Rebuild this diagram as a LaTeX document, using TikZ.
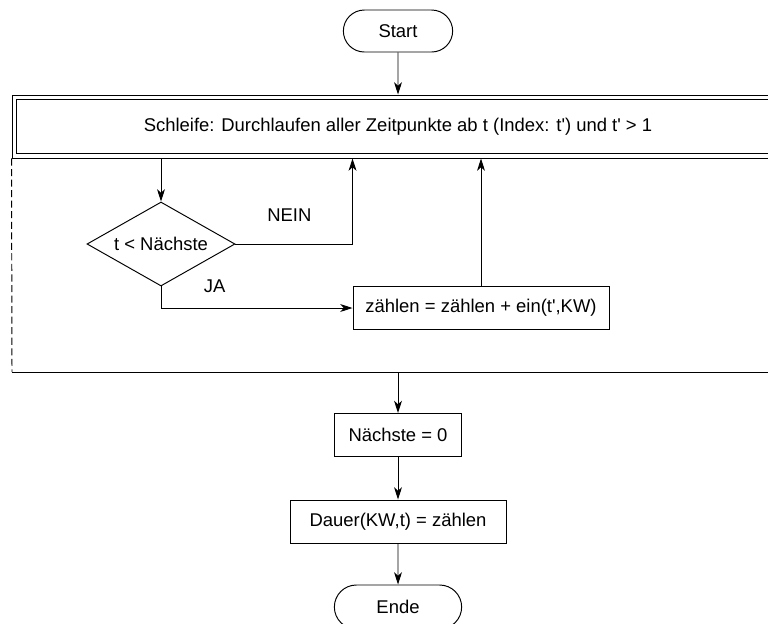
\documentclass[tikz,border=0pt]{standalone}
\usepackage{fontspec}
\setmainfont{Liberation Sans}
\usepackage{tikz}
\usetikzlibrary{shapes.geometric,shapes.misc,arrows.meta,positioning}

\begin{document}
\begin{tikzpicture}[font=\fontsize{10.5}{12.5}\selectfont,line width=0.55pt,
  terminal/.style={rounded rectangle,draw,minimum width=2.42cm,minimum height=0.84cm},
  anweisung/.style={rectangle,draw,minimum height=0.86cm,inner xsep=6pt},
  entscheidung/.style={diamond,draw,aspect=1.76,minimum width=2.96cm,minimum height=1.68cm,inner sep=0pt},
  schleife/.style={rectangle,draw,minimum width=15.44cm,minimum height=1.26cm},
  pfeil/.style={-{Stealth[length=7pt,width=4.5pt,inset=2pt]}}]

  \useasboundingbox (0,0) rectangle (15.36,-12.46);

  \node[terminal] (START) at (7.96,-0.62) {Start};
  \node[schleife] (SCHL) at (7.96,-2.53) {Schleife: Durchlaufen aller Zeitpunkte ab t (Index: t\textquotesingle) und t\textquotesingle{} > 1};
  \draw ([shift={(0.1,-0.1)}]SCHL.north west) rectangle ([shift={(-0.1,0.1)}]SCHL.south east);
  \node[entscheidung] (VGL) at (3.22,-4.88) {t < Nächste};
  \node[anweisung,minimum width=5.12cm] (ZAEHL) at (9.62,-6.16) {zählen = zählen + ein(t\textquotesingle,KW)};
  \coordinate (SENDE) at (0.24,-7.44);
  \node[anweisung,minimum width=2.54cm] (NAECH) at (7.96,-8.7) {Nächste = 0};
  \node[anweisung,minimum width=4.32cm] (DAUER) at (7.96,-10.43) {Dauer(KW,t) = zählen};
  \node[terminal,minimum width=2.78cm,minimum height=0.88cm] (ENDE) at (7.96,-12.14) {Ende};

  \draw[dash pattern=on 4pt off 2pt] (SCHL.south west) -- (SENDE);
  \draw (SENDE) -- ++(16,0);

  \draw[pfeil] (START) -- (SCHL);
  \draw[pfeil] (VGL.north |- SCHL.south) -- (VGL.north);
  \draw[pfeil] (VGL.east) -| (ZAEHL.west |- SCHL.south)
    node[pos=0.23,above=9pt]{NEIN};
  \draw[pfeil] (VGL.south) |- (ZAEHL.west)
    node[pos=0.64,above=5pt]{JA};
  \draw[pfeil] (ZAEHL.north) -- (ZAEHL.north |- SCHL.south);
  \draw[pfeil] (NAECH.north |- SENDE) -- (NAECH);
  \draw[pfeil] (NAECH) -- (DAUER);
  \draw[pfeil] (DAUER) -- (ENDE);
\end{tikzpicture}
\end{document}
